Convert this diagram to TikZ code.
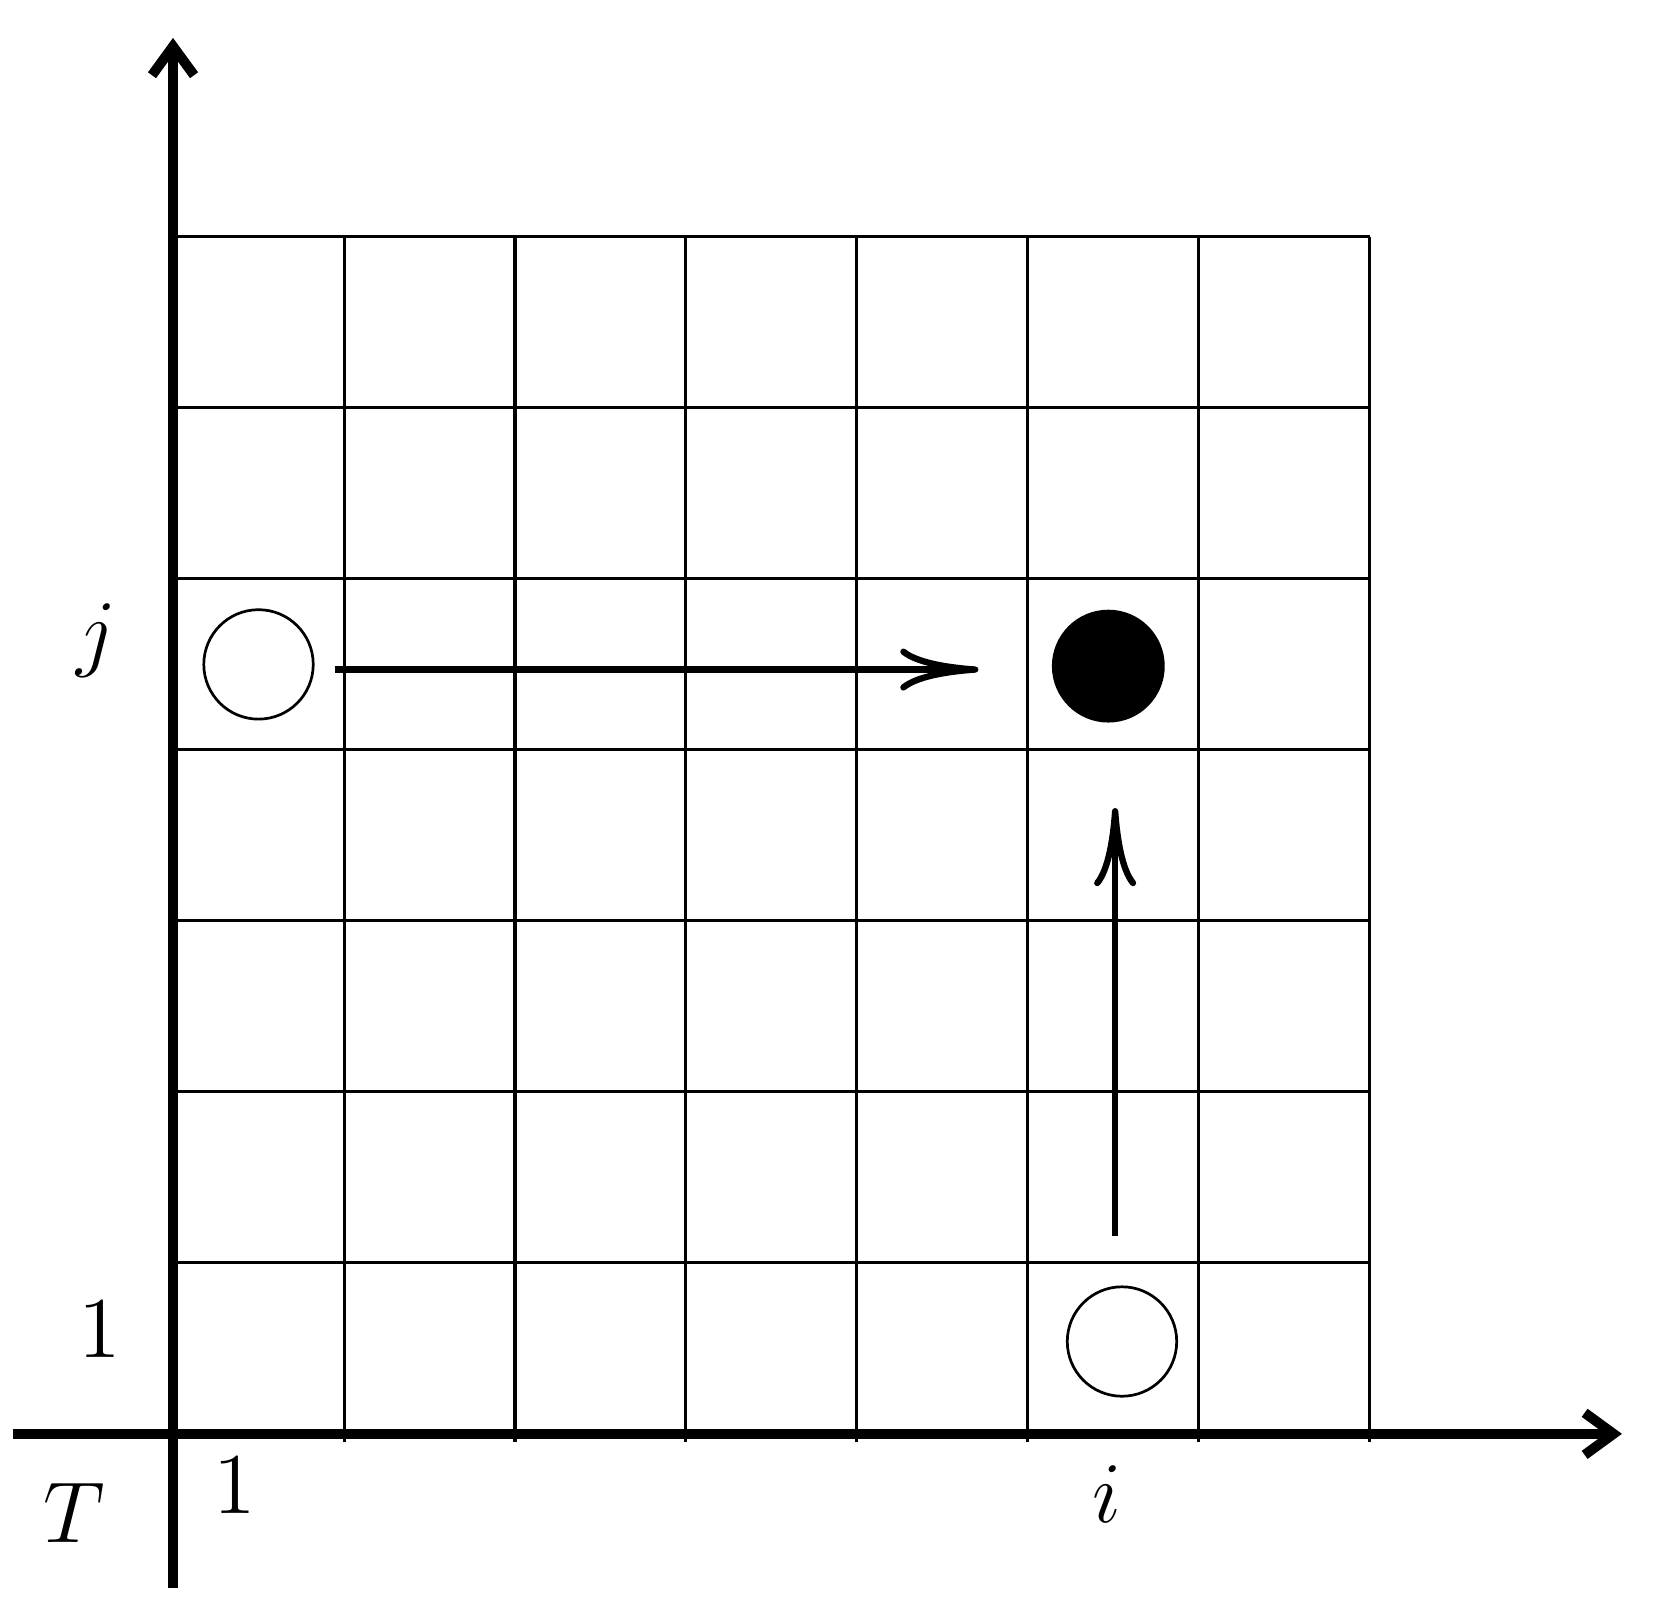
\documentclass[tikz,border=0pt]{standalone}
\usetikzlibrary{arrows.meta}
\begin{document}
\begin{tikzpicture}[x=1cm,y=1cm,
  axisline/.style={line width=1.66pt,-{Straight Barb[length=4.8pt,width=7pt]}},
  gridline/.style={line width=0.5pt},
  movearrow/.style={line width=1.05pt,-{Computer Modern Rightarrow[length=13pt,width=7pt]}},
  opendot/.style={circle,draw,line width=0.45pt,minimum size=0.64cm,inner sep=0pt},
  fulldot/.style={circle,fill,minimum size=0.66cm,inner sep=0pt},
  lab/.style={inner sep=0pt,font=\fontsize{13.3}{16}\selectfont}]
\useasboundingbox (-1.012,-1.041) rectangle (8.673,8.386);
% grid
\foreach \k in {1,...,7} \draw[gridline] (\k,-0.05) -- (\k,7);
\foreach \k in {1,...,7} \draw[gridline] (0,\k) -- (7,\k);
% axes
\coordinate (xs) at (-0.936,0);
\coordinate (xe) at (8.474,0);
\coordinate (ys) at (0,-0.90);
\coordinate (ye) at (0,8.164);
\draw[axisline] (xs) -- (xe);
\draw[axisline] (ys) -- (ye);
% dots
\node[opendot] (a) at (0.5,4.5) {};
\node[fulldot] (b) at (5.47,4.49) {};
\node[opendot] (c) at (5.55,0.54) {};
% arrows
\coordinate (h1) at (0.95,4.47);
\coordinate (h2) at (4.71,4.47);
\coordinate (v1) at (5.51,1.16);
\coordinate (v2) at (5.51,3.66);
\draw[movearrow] (h1) -- (h2);
\draw[movearrow] (v1) -- (v2);
% labels
\node[lab] (lj) at (-0.45,4.64) {$j$};
\node[lab] (l1y) at (-0.43,0.61) {$1$};
\node[lab] (l1x) at (0.36,-0.30) {$1$};
\node[lab] (lT) at (-0.58,-0.46) {$T$};
\node[lab] (li) at (5.46,-0.35) {$i$};
\end{tikzpicture}
\end{document}
